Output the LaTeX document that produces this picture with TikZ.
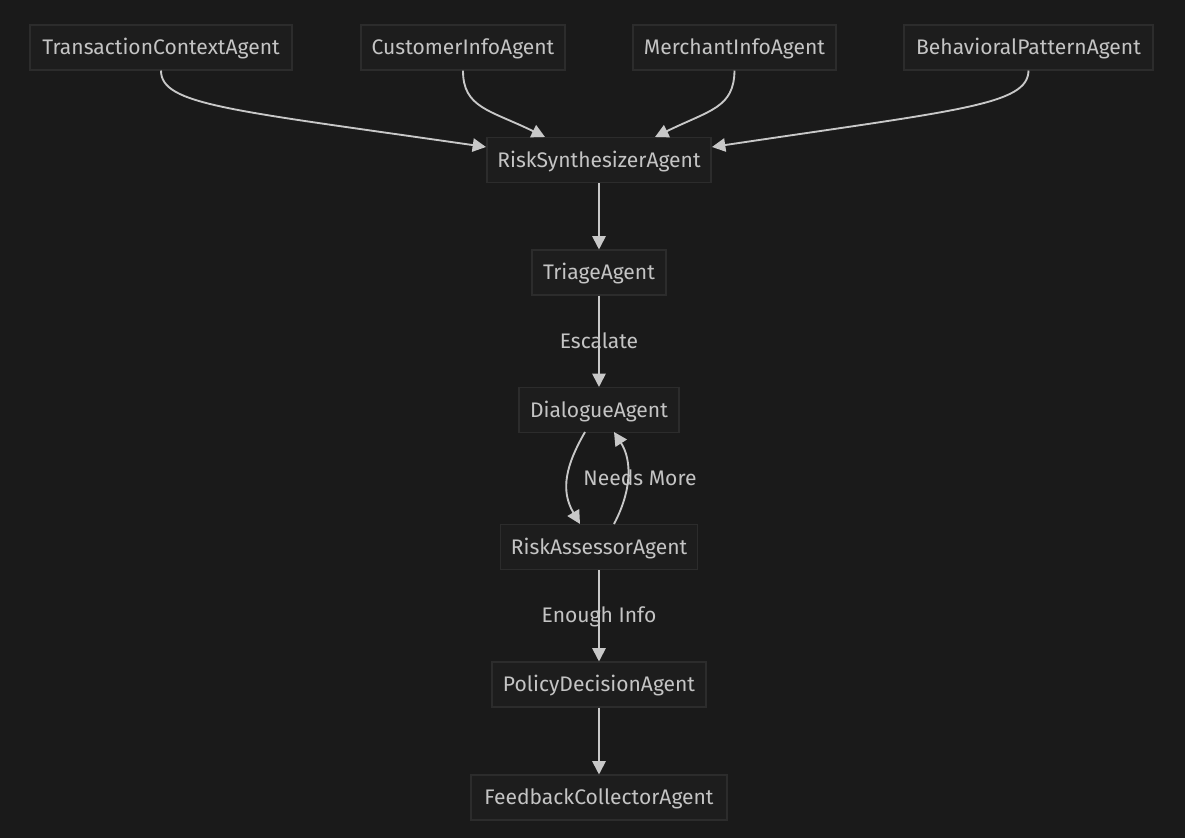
\documentclass[tikz,border=0pt]{standalone}
\usepackage{fontspec}
\setmainfont{Fira Sans}
\usetikzlibrary{arrows.meta}
\definecolor{bg}{HTML}{1A1A1A}
\definecolor{boxfill}{HTML}{1D1D1D}
\definecolor{boxline}{HTML}{2C2C2C}
\definecolor{txt}{HTML}{C4C4C4}
\definecolor{edge}{HTML}{C8C8C8}
\tikzset{
  agent/.style={draw=boxline, fill=boxfill, line width=0.8pt, text=txt, font=\fontsize{15.8pt}{18pt}\selectfont, minimum height=33.75pt, inner xsep=7.5pt, text depth=0.25ex},
  conn/.style={draw=edge, line width=1.4pt, -{Triangle[length=10pt,width=10pt]}},
  lbl/.style={text=txt, font=\fontsize{15.8pt}{18pt}\selectfont, text depth=0.25ex}
}
\begin{document}
\begin{tikzpicture}[x=0.75pt,y=-0.75pt]
\fill[bg] (0,0) rectangle (1185,838);
\useasboundingbox (0,0) rectangle (1185,838);
\node[agent, minimum width=196.5pt] (tca) at (161,47.5) {TransactionContextAgent};
\node[agent, minimum width=153pt] (cia) at (463,47.5) {CustomerInfoAgent};
\node[agent, minimum width=152.25pt] (mia) at (734.5,47.5) {MerchantInfoAgent};
\node[agent, minimum width=186.75pt] (bpa) at (1028.5,47.5) {BehavioralPatternAgent};
\node[agent, minimum width=168pt] (rsa) at (599,160) {RiskSynthesizerAgent};
\node[agent, minimum width=100.5pt] (tri) at (599,272.5) {TriageAgent};
\node[agent, minimum width=120pt] (dia) at (599,410) {DialogueAgent};
\node[agent, minimum width=145.5pt] (raa) at (599,547) {RiskAssessorAgent};
\node[agent, minimum width=160.5pt] (pda) at (599,684.5) {PolicyDecisionAgent};
\node[agent, minimum width=192pt] (fca) at (599,797.5) {FeedbackCollectorAgent};
\coordinate (tcaE) at (486,147);
\coordinate (bpaE) at (712,147);
\coordinate (ciaE) at (545,137);
\coordinate (miaE) at (655,137);
\draw[conn] (tca.south) .. controls (161,105) and (230,110) .. (tcaE);
\draw[conn] (cia.south) .. controls (463,108) and (490,110) .. (ciaE);
\draw[conn] (mia.south) .. controls (734,108) and (710,110) .. (miaE);
\draw[conn] (bpa.south) .. controls (1028,105) and (960,110) .. (bpaE);
\draw[conn] (rsa) -- (tri);
\draw[conn] (tri) -- node[lbl, pos=0.5] {Escalate} (dia);
\coordinate (d1) at (585,432);
\coordinate (r1) at (580,524);
\coordinate (r2) at (614,524);
\coordinate (d2) at (614,432);
\draw[conn] (d1) .. controls (566,465) and (560,490) .. (r1);
\draw[conn] (r2) .. controls (632,490) and (632,460) .. (d2);
\node[lbl] (nm) at (640,478) {Needs More};
\draw[conn] (raa) -- node[lbl, pos=0.5] {Enough Info} (pda);
\draw[conn] (pda) -- (fca);
\end{tikzpicture}
\end{document}
